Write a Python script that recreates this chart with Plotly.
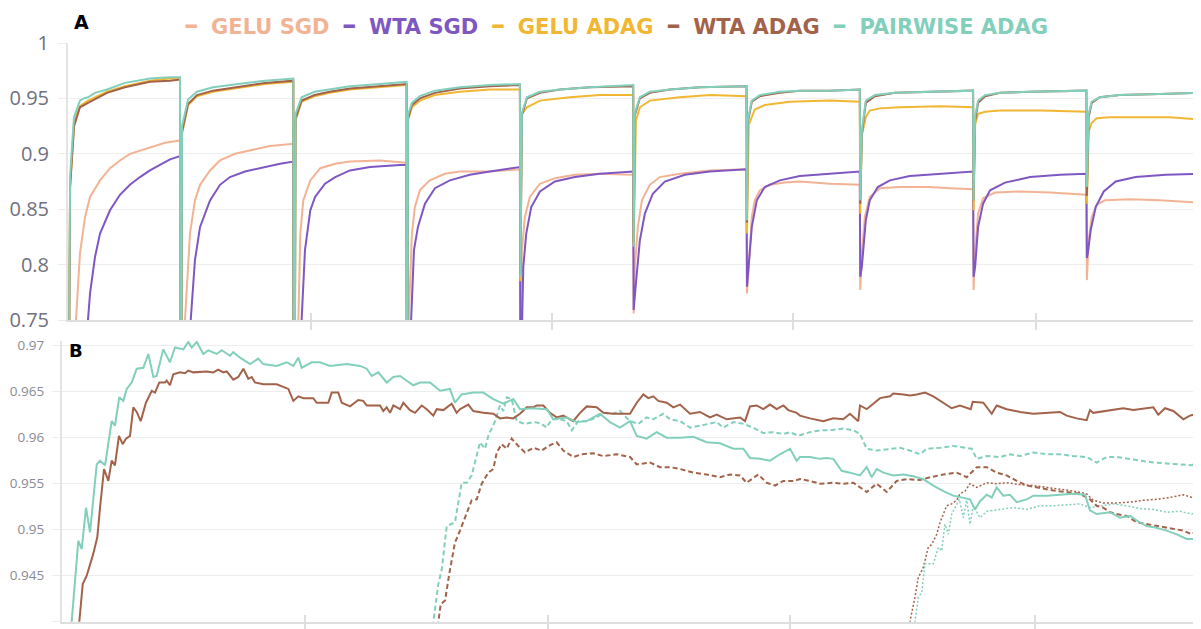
import plotly.graph_objects as go

# ---------------- colours ----------------
C_GELU_SGD = "#f2b394"
C_WTA_SGD = "#7e57c2"
C_GELU_ADAG = "#f2b732"
C_WTA_ADAG = "#a3624a"
C_PAIR_ADAG = "#82cfbb"

SERIES_NAMES = ["GELU SGD", "WTA SGD", "GELU ADAG", "WTA ADAG", "PAIRWISE ADAG"]

# ---------------- panel A : accuracy over 10 sequential tasks (x in task units) ----------------
A_GELU_SGD = [
    (0.012, 0.40), (0.082, 0.75), (0.117, 0.81), (0.162, 0.843), (0.206, 0.861), (0.294, 0.876), (0.382, 0.887),
    (0.47, 0.894), (0.558, 0.9), (0.735, 0.906), (0.868, 0.91), (1.0, 0.912),
    (1.005, 0.40), (1.044, 0.75), (1.088, 0.828), (1.132, 0.858), (1.177, 0.872), (1.265, 0.885), (1.353, 0.894),
    (1.485, 0.9), (1.618, 0.903), (1.794, 0.907), (2.0, 0.909),
    (2.005, 0.40), (2.045, 0.75), (2.062, 0.828), (2.088, 0.858), (2.15, 0.876), (2.238, 0.887), (2.37, 0.891),
    (2.5, 0.893), (2.764, 0.894), (3.0, 0.892),
    (3.005, 0.40), (3.019, 0.75), (3.047, 0.828), (3.073, 0.852), (3.117, 0.867), (3.205, 0.876), (3.338, 0.882),
    (3.47, 0.884), (3.735, 0.884), (4.0, 0.886),
    (4.005, 0.70), (4.018, 0.813), (4.044, 0.843), (4.088, 0.861), (4.177, 0.873), (4.309, 0.878), (4.485, 0.881),
    (4.706, 0.882), (5.0, 0.881),
    (5.004, 0.756), (5.015, 0.798), (5.041, 0.834), (5.077, 0.858), (5.147, 0.872), (5.235, 0.879), (5.412, 0.882),
    (5.676, 0.885), (6.0, 0.886),
    (6.004, 0.774), (6.02, 0.798), (6.047, 0.843), (6.073, 0.858), (6.117, 0.867), (6.205, 0.872), (6.338, 0.874),
    (6.47, 0.875), (6.735, 0.873), (7.0, 0.872),
    (7.004, 0.777), (7.018, 0.81), (7.044, 0.843), (7.088, 0.861), (7.177, 0.869), (7.353, 0.87), (7.618, 0.87),
    (7.794, 0.869), (8.0, 0.868),
    (8.004, 0.777), (8.018, 0.813), (8.044, 0.846), (8.088, 0.86), (8.194, 0.865), (8.415, 0.866), (8.68, 0.865),
    (9.0, 0.863),
    (9.004, 0.786), (9.02, 0.822), (9.047, 0.843), (9.091, 0.854), (9.162, 0.858), (9.382, 0.859), (9.647, 0.858),
    (10.0, 0.856),
]

A_WTA_SGD = [
    (0.012, 0.30), (0.15, 0.70), (0.206, 0.774), (0.25, 0.807), (0.294, 0.828), (0.382, 0.849), (0.47, 0.863),
    (0.558, 0.872), (0.647, 0.879), (0.735, 0.885), (0.823, 0.89), (0.912, 0.895), (1.0, 0.898),
    (1.005, 0.40), (1.06, 0.70), (1.132, 0.804), (1.177, 0.834), (1.265, 0.858), (1.353, 0.872), (1.441, 0.879),
    (1.574, 0.884), (1.706, 0.887), (1.883, 0.891), (2.0, 0.893),
    (2.005, 0.40), (2.05, 0.70), (2.103, 0.813), (2.15, 0.849), (2.192, 0.861), (2.28, 0.873), (2.37, 0.879),
    (2.5, 0.885), (2.677, 0.888), (2.942, 0.89), (3.0, 0.89),
    (3.005, 0.40), (3.02, 0.70), (3.065, 0.813), (3.1, 0.834), (3.162, 0.855), (3.25, 0.869), (3.382, 0.876),
    (3.558, 0.881), (3.735, 0.884), (3.973, 0.888), (4.0, 0.888),
    (4.005, 0.68), (4.03, 0.798), (4.056, 0.828), (4.1, 0.852), (4.177, 0.866), (4.309, 0.875), (4.485, 0.879),
    (4.706, 0.882), (5.0, 0.884),
    (5.004, 0.759), (5.024, 0.783), (5.059, 0.822), (5.103, 0.846), (5.173, 0.864), (5.279, 0.875), (5.456, 0.881),
    (5.676, 0.884), (6.0, 0.886),
    (6.004, 0.78), (6.02, 0.798), (6.047, 0.834), (6.091, 0.858), (6.161, 0.87), (6.294, 0.876), (6.47, 0.88),
    (6.735, 0.882), (7.0, 0.884),
    (7.004, 0.789), (7.018, 0.798), (7.053, 0.84), (7.088, 0.858), (7.159, 0.87), (7.265, 0.876), (7.441, 0.88),
    (7.706, 0.882), (8.0, 0.884),
    (8.004, 0.789), (8.018, 0.798), (8.044, 0.834), (8.088, 0.855), (8.15, 0.867), (8.282, 0.874), (8.503, 0.879),
    (8.768, 0.881), (9.0, 0.882),
    (9.004, 0.806), (9.012, 0.81), (9.038, 0.831), (9.082, 0.852), (9.153, 0.866), (9.259, 0.875), (9.435, 0.879),
    (9.7, 0.881), (10.0, 0.882),
]

A_GELU_ADAG = [
    (0.012, 0.55), (0.03, 0.87), (0.065, 0.928), (0.117, 0.943), (0.188, 0.948), (0.356, 0.956), (0.514, 0.961),
    (0.735, 0.966), (0.912, 0.968), (1.0, 0.968),
    (1.005, 0.40), (1.018, 0.918), (1.071, 0.944), (1.15, 0.952), (1.291, 0.956), (1.53, 0.96), (1.75, 0.963),
    (2.0, 0.965),
    (2.005, 0.40), (2.02, 0.93), (2.073, 0.947), (2.188, 0.952), (2.32, 0.955), (2.5, 0.958), (2.764, 0.96),
    (3.0, 0.962),
    (3.004, 0.40), (3.012, 0.93), (3.047, 0.942), (3.117, 0.948), (3.25, 0.953), (3.47, 0.956), (3.735, 0.958),
    (4.0, 0.958),
    (4.004, 0.785), (4.018, 0.936), (4.062, 0.942), (4.177, 0.948), (4.44, 0.951), (4.706, 0.953), (5.0, 0.953),
    (5.004, 0.818), (5.024, 0.93), (5.059, 0.942), (5.147, 0.948), (5.41, 0.951), (5.68, 0.953), (6.0, 0.952),
    (6.004, 0.828), (6.02, 0.926), (6.073, 0.94), (6.161, 0.944), (6.382, 0.947), (6.735, 0.948), (7.0, 0.947),
    (7.004, 0.846), (7.018, 0.917), (7.053, 0.933), (7.088, 0.939), (7.177, 0.941), (7.353, 0.942), (7.706, 0.943),
    (8.0, 0.942),
    (8.004, 0.849), (8.018, 0.927), (8.044, 0.936), (8.106, 0.938), (8.238, 0.939), (8.6, 0.939), (9.0, 0.938),
    (9.004, 0.855), (9.02, 0.92), (9.047, 0.928), (9.091, 0.932), (9.206, 0.933), (9.47, 0.933), (9.735, 0.933),
    (10.0, 0.931),
]

A_WTA_ADAG = [
    (0.012, 0.55), (0.03, 0.87), (0.065, 0.925), (0.117, 0.942), (0.188, 0.946), (0.356, 0.955), (0.514, 0.96),
    (0.735, 0.965), (0.912, 0.966), (1.0, 0.967),
    (1.005, 0.40), (1.018, 0.92), (1.071, 0.945), (1.15, 0.953), (1.291, 0.957), (1.53, 0.961), (1.75, 0.964),
    (2.0, 0.966),
    (2.005, 0.40), (2.02, 0.932), (2.073, 0.948), (2.188, 0.953), (2.32, 0.956), (2.5, 0.959), (2.764, 0.961),
    (3.0, 0.963),
    (3.004, 0.40), (3.012, 0.932), (3.047, 0.944), (3.117, 0.95), (3.25, 0.955), (3.47, 0.959), (3.735, 0.961),
    (4.0, 0.962),
    (4.004, 0.792), (4.018, 0.935), (4.062, 0.95), (4.177, 0.955), (4.353, 0.958), (4.618, 0.96), (5.0, 0.961),
    (5.004, 0.82), (5.015, 0.935), (5.059, 0.95), (5.147, 0.955), (5.324, 0.958), (5.59, 0.96), (6.0, 0.961),
    (6.004, 0.838), (6.011, 0.928), (6.047, 0.947), (6.117, 0.952), (6.294, 0.955), (6.47, 0.957), (6.735, 0.957),
    (7.0, 0.958),
    (7.004, 0.855), (7.018, 0.918), (7.053, 0.946), (7.133, 0.952), (7.31, 0.955), (7.618, 0.956), (8.0, 0.957),
    (8.004, 0.858), (8.018, 0.93), (8.044, 0.946), (8.106, 0.952), (8.238, 0.955), (8.503, 0.956), (9.0, 0.957),
    (9.004, 0.862), (9.02, 0.933), (9.047, 0.946), (9.118, 0.951), (9.294, 0.953), (9.647, 0.954), (10.0, 0.955),
]

A_PAIR_ADAG = [
    (0.012, 0.55), (0.03, 0.88), (0.064, 0.933), (0.117, 0.948), (0.15, 0.95), (0.188, 0.951), (0.25, 0.955),
    (0.356, 0.958), (0.514, 0.964), (0.735, 0.968), (0.912, 0.969), (1.0, 0.969),
    (1.005, 0.40), (1.018, 0.925), (1.071, 0.949), (1.15, 0.956), (1.291, 0.96), (1.53, 0.963), (1.75, 0.966),
    (2.0, 0.968),
    (2.005, 0.40), (2.02, 0.936), (2.073, 0.951), (2.188, 0.956), (2.32, 0.958), (2.5, 0.961), (2.764, 0.963),
    (3.0, 0.965),
    (3.004, 0.40), (3.012, 0.935), (3.047, 0.946), (3.117, 0.952), (3.25, 0.957), (3.47, 0.96), (3.735, 0.962),
    (4.0, 0.963),
    (4.004, 0.789), (4.018, 0.937), (4.062, 0.951), (4.177, 0.956), (4.353, 0.958), (4.618, 0.96), (5.0, 0.962),
    (5.004, 0.816), (5.015, 0.937), (5.059, 0.951), (5.147, 0.956), (5.324, 0.958), (5.59, 0.96), (6.0, 0.961),
    (6.004, 0.84), (6.011, 0.93), (6.047, 0.948), (6.117, 0.953), (6.294, 0.956), (6.47, 0.957), (6.735, 0.957),
    (7.0, 0.958),
    (7.004, 0.858), (7.018, 0.921), (7.053, 0.948), (7.133, 0.953), (7.31, 0.955), (7.618, 0.956), (8.0, 0.957),
    (8.004, 0.858), (8.018, 0.934), (8.044, 0.948), (8.106, 0.953), (8.238, 0.955), (8.503, 0.956), (9.0, 0.957),
    (9.004, 0.87), (9.02, 0.936), (9.047, 0.947), (9.118, 0.951), (9.294, 0.953), (9.647, 0.954), (10.0, 0.955),
]

# ---------------- panel B : zoom on ADAG runs ----------------
B_PAIR_SOLID = [
    (0.07, 0.936), (0.085, 0.94), (0.143, 0.9488), (0.173, 0.9479), (0.211, 0.9524), (0.246, 0.9497), (0.305, 0.9571),
    (0.334, 0.9575), (0.378, 0.957), (0.436, 0.9618), (0.465, 0.9613), (0.503, 0.9644), (0.538, 0.964),
    (0.568, 0.9653), (0.612, 0.966), (0.656, 0.9675), (0.714, 0.9676), (0.758, 0.9691), (0.802, 0.9666),
    (0.831, 0.9667), (0.889, 0.9696), (0.948, 0.9682), (0.992, 0.9698), (1.065, 0.9696), (1.109, 0.9704),
    (1.139, 0.9698), (1.183, 0.9704), (1.241, 0.9691), (1.284, 0.9695), (1.358, 0.9691), (1.402, 0.9695),
    (1.475, 0.9689), (1.504, 0.9693), (1.563, 0.9687), (1.651, 0.968), (1.723, 0.9686), (1.767, 0.968),
    (1.885, 0.9678), (1.973, 0.9682), (2.031, 0.9678), (2.075, 0.9687), (2.104, 0.9676), (2.192, 0.9682),
    (2.265, 0.9682), (2.353, 0.9678), (2.5, 0.968), (2.616, 0.9678), (2.675, 0.9675), (2.719, 0.9667),
    (2.777, 0.9671), (2.851, 0.966), (2.909, 0.9666), (2.968, 0.9667), (3.084, 0.9657), (3.143, 0.966),
    (3.231, 0.966), (3.319, 0.9651), (3.406, 0.9653), (3.45, 0.9638), (3.509, 0.9647), (3.611, 0.9649),
    (3.699, 0.9649), (3.787, 0.9642), (3.875, 0.9637), (3.962, 0.9642), (4.021, 0.9631), (4.138, 0.9632),
    (4.256, 0.9631), (4.313, 0.962), (4.431, 0.9622), (4.519, 0.9617), (4.607, 0.9618), (4.723, 0.9626),
    (4.811, 0.9617), (4.899, 0.9611), (4.987, 0.9618), (5.046, 0.9602), (5.133, 0.9599), (5.221, 0.9606),
    (5.309, 0.96), (5.426, 0.96), (5.543, 0.9601), (5.66, 0.9595), (5.777, 0.9594), (5.894, 0.9588),
    (5.982, 0.9588), (6.04, 0.9578), (6.128, 0.9577), (6.216, 0.9575), (6.304, 0.9582), (6.392, 0.9588),
    (6.45, 0.9575), (6.479, 0.9579), (6.567, 0.9579), (6.655, 0.9577), (6.714, 0.9578), (6.772, 0.9577),
    (6.845, 0.9564), (6.918, 0.9562), (7.006, 0.9559), (7.065, 0.9568), (7.109, 0.9557), (7.153, 0.9566),
    (7.211, 0.9562), (7.299, 0.9559), (7.386, 0.956), (7.474, 0.9558), (7.562, 0.9555), (7.65, 0.9548),
    (7.738, 0.9542), (7.825, 0.9537), (7.913, 0.9535), (7.972, 0.9533), (8.016, 0.9522), (8.06, 0.9531),
    (8.119, 0.9538), (8.163, 0.9535), (8.206, 0.9546), (8.264, 0.9537), (8.323, 0.9538), (8.382, 0.953),
    (8.47, 0.9533), (8.528, 0.9537), (8.645, 0.9537), (8.762, 0.9538), (8.879, 0.9539), (8.982, 0.9538),
    (9.025, 0.9521), (9.084, 0.9517), (9.201, 0.9519), (9.289, 0.9513), (9.377, 0.9515), (9.436, 0.951),
    (9.523, 0.9504), (9.611, 0.9502), (9.699, 0.9499), (9.787, 0.9495), (9.874, 0.949), (9.933, 0.949),
    (10.0, 0.9491),
]

B_WTA_SOLID = [
    (0.14, 0.936), (0.152, 0.94), (0.182, 0.9441), (0.217, 0.945), (0.275, 0.9474), (0.31, 0.9492), (0.334, 0.9524),
    (0.369, 0.9566), (0.407, 0.9553), (0.436, 0.9575), (0.465, 0.957), (0.5, 0.9602), (0.533, 0.9593),
    (0.562, 0.9599), (0.597, 0.9602), (0.626, 0.9633), (0.656, 0.9628), (0.691, 0.9618), (0.737, 0.9638),
    (0.788, 0.9651), (0.817, 0.9649), (0.854, 0.966), (0.904, 0.966), (0.919, 0.9662), (0.948, 0.9657),
    (0.977, 0.9669), (1.036, 0.9671), (1.08, 0.967), (1.109, 0.9673), (1.153, 0.9671), (1.27, 0.9672),
    (1.328, 0.9671), (1.372, 0.9674), (1.416, 0.9671), (1.446, 0.9672), (1.504, 0.9663), (1.548, 0.9666),
    (1.592, 0.9675), (1.636, 0.9664), (1.666, 0.9666), (1.694, 0.966), (1.767, 0.9658), (1.885, 0.9658),
    (1.943, 0.9655), (1.987, 0.9653), (2.031, 0.964), (2.075, 0.9645), (2.119, 0.9643), (2.206, 0.9643),
    (2.236, 0.9638), (2.338, 0.9638), (2.368, 0.9649), (2.426, 0.9649), (2.456, 0.9638), (2.529, 0.9634),
    (2.601, 0.9641), (2.645, 0.964), (2.675, 0.9635), (2.792, 0.9635), (2.821, 0.9629), (2.851, 0.9633),
    (2.88, 0.9627), (2.909, 0.9635), (2.968, 0.9631), (2.997, 0.9638), (3.055, 0.963), (3.099, 0.9627),
    (3.158, 0.9635), (3.202, 0.9631), (3.26, 0.9624), (3.29, 0.9631), (3.348, 0.963), (3.421, 0.9637),
    (3.465, 0.9627), (3.494, 0.9631), (3.567, 0.9636), (3.611, 0.9629), (3.699, 0.9627), (3.787, 0.9626),
    (3.845, 0.9621), (3.904, 0.9622), (3.962, 0.9621), (4.021, 0.9626), (4.08, 0.9633), (4.138, 0.9633),
    (4.168, 0.9635), (4.226, 0.9635), (4.284, 0.9627), (4.343, 0.9622), (4.401, 0.9624), (4.489, 0.9618),
    (4.548, 0.9627), (4.607, 0.9634), (4.694, 0.9633), (4.753, 0.9627), (4.84, 0.9626), (4.987, 0.9626),
    (5.046, 0.9638), (5.104, 0.9647), (5.148, 0.9643), (5.191, 0.9645), (5.235, 0.964), (5.309, 0.9638),
    (5.367, 0.9633), (5.426, 0.9636), (5.514, 0.9626), (5.601, 0.9628), (5.689, 0.9622), (5.748, 0.9625),
    (5.836, 0.962), (5.953, 0.9622), (5.997, 0.9618), (6.04, 0.9634), (6.099, 0.9635), (6.157, 0.9631),
    (6.216, 0.9636), (6.275, 0.9631), (6.333, 0.9635), (6.377, 0.963), (6.45, 0.9627), (6.479, 0.9624),
    (6.567, 0.9621), (6.684, 0.9618), (6.772, 0.9621), (6.859, 0.962), (6.918, 0.9626), (6.991, 0.9618),
    (7.006, 0.9635), (7.065, 0.9631), (7.123, 0.9637), (7.182, 0.9643), (7.27, 0.9645), (7.299, 0.9648),
    (7.386, 0.9647), (7.445, 0.9646), (7.504, 0.9647), (7.577, 0.9649), (7.65, 0.9645), (7.738, 0.9638),
    (7.811, 0.9632), (7.884, 0.9635), (7.978, 0.9631), (7.996, 0.9639), (8.089, 0.9638), (8.163, 0.9626),
    (8.206, 0.9635), (8.294, 0.9631), (8.411, 0.9628), (8.528, 0.9626), (8.645, 0.9627), (8.762, 0.9628),
    (8.821, 0.9624), (8.909, 0.9621), (8.996, 0.9619), (9.025, 0.963), (9.054, 0.9627), (9.113, 0.9628),
    (9.23, 0.963), (9.318, 0.9632), (9.406, 0.963), (9.523, 0.9632), (9.582, 0.9633), (9.625, 0.9625),
    (9.684, 0.9632), (9.757, 0.9629), (9.845, 0.962), (9.903, 0.9624), (10.0, 0.9627),
]

B_PAIR_DASH = [
    (3.24, 0.936), (3.26, 0.94), (3.304, 0.9441), (3.334, 0.9457), (3.378, 0.9504), (3.45, 0.9508), (3.509, 0.9551),
    (3.553, 0.9551), (3.597, 0.9559), (3.67, 0.9595), (3.714, 0.9588), (3.743, 0.9602), (3.802, 0.9618),
    (3.845, 0.9635), (3.875, 0.9629), (3.904, 0.9644), (3.948, 0.9642), (3.992, 0.9618), (4.065, 0.9615),
    (4.138, 0.9617), (4.197, 0.9616), (4.256, 0.9611), (4.299, 0.962), (4.372, 0.962), (4.431, 0.9618),
    (4.475, 0.9608), (4.533, 0.9618), (4.607, 0.9618), (4.694, 0.9622), (4.753, 0.9627), (4.84, 0.9626),
    (4.899, 0.9629), (4.987, 0.9618), (5.06, 0.9615), (5.133, 0.9622), (5.191, 0.962), (5.279, 0.9626),
    (5.338, 0.962), (5.426, 0.9618), (5.514, 0.9611), (5.601, 0.9613), (5.689, 0.9615), (5.748, 0.9617),
    (5.806, 0.9611), (5.894, 0.9617), (5.982, 0.9615), (6.069, 0.9611), (6.157, 0.9605), (6.245, 0.9606),
    (6.333, 0.9604), (6.392, 0.9606), (6.464, 0.9602), (6.567, 0.9606), (6.655, 0.9608), (6.743, 0.9608),
    (6.859, 0.961), (6.948, 0.9608), (7.006, 0.9604), (7.065, 0.9588), (7.153, 0.9586), (7.27, 0.9588),
    (7.357, 0.9589), (7.445, 0.9586), (7.533, 0.9582), (7.592, 0.9588), (7.709, 0.9589), (7.825, 0.9591),
    (7.913, 0.9589), (7.987, 0.9588), (8.031, 0.9577), (8.119, 0.958), (8.236, 0.9579), (8.323, 0.9582),
    (8.411, 0.958), (8.528, 0.9584), (8.645, 0.9582), (8.762, 0.9582), (8.879, 0.958), (8.996, 0.9579),
    (9.084, 0.9573), (9.172, 0.9579), (9.26, 0.9579), (9.377, 0.9577), (9.494, 0.9575), (9.582, 0.9573),
    (9.699, 0.9572), (9.816, 0.9571), (9.918, 0.957), (10.0, 0.9576),
]

B_WTA_DASH = [
    (3.29, 0.936), (3.304, 0.94), (3.325, 0.9419), (3.363, 0.9423), (3.4, 0.9452), (3.45, 0.9486), (3.494, 0.9499),
    (3.553, 0.9519), (3.597, 0.9532), (3.641, 0.9533), (3.685, 0.955), (3.743, 0.9562), (3.787, 0.9566),
    (3.817, 0.9584), (3.86, 0.9593), (3.904, 0.9588), (3.948, 0.9599), (4.006, 0.9591), (4.065, 0.9584),
    (4.138, 0.9589), (4.212, 0.9586), (4.27, 0.9591), (4.343, 0.9595), (4.401, 0.9586), (4.489, 0.9579),
    (4.563, 0.9582), (4.665, 0.9583), (4.753, 0.958), (4.87, 0.9582), (4.987, 0.9579), (5.046, 0.9571),
    (5.163, 0.9573), (5.25, 0.9568), (5.338, 0.9568), (5.426, 0.9566), (5.543, 0.9562), (5.66, 0.956),
    (5.777, 0.9557), (5.865, 0.956), (5.953, 0.9559), (6.011, 0.9551), (6.113, 0.956), (6.187, 0.9551),
    (6.26, 0.9548), (6.333, 0.9553), (6.421, 0.9553), (6.479, 0.9555), (6.567, 0.9553), (6.655, 0.955),
    (6.772, 0.9551), (6.859, 0.955), (6.948, 0.9551), (7.065, 0.9541), (7.153, 0.955), (7.241, 0.9541),
    (7.328, 0.9553), (7.416, 0.9555), (7.533, 0.9554), (7.621, 0.9557), (7.738, 0.956), (7.855, 0.9562),
    (7.943, 0.9557), (8.031, 0.9568), (8.119, 0.9568), (8.206, 0.9562), (8.294, 0.9559), (8.382, 0.9553),
    (8.47, 0.9548), (8.557, 0.9546), (8.645, 0.9544), (8.733, 0.9542), (8.821, 0.9541), (8.938, 0.9539),
    (9.025, 0.9533), (9.084, 0.9526), (9.142, 0.9524), (9.201, 0.9519), (9.26, 0.9517), (9.348, 0.9515),
    (9.436, 0.9508), (9.523, 0.9506), (9.64, 0.9504), (9.728, 0.9502), (9.845, 0.9499), (9.918, 0.9495),
    (10.0, 0.9502),
]

B_WTA_DOT = [
    (7.43, 0.936), (7.445, 0.94), (7.489, 0.9427), (7.518, 0.9448), (7.562, 0.9459), (7.606, 0.9481), (7.636, 0.9484),
    (7.68, 0.9495), (7.709, 0.9508), (7.738, 0.9517), (7.767, 0.9526), (7.811, 0.9528), (7.855, 0.9532),
    (7.884, 0.9539), (7.928, 0.9542), (7.972, 0.955), (8.031, 0.9546), (8.119, 0.9551), (8.206, 0.955),
    (8.294, 0.9551), (8.411, 0.9549), (8.528, 0.9548), (8.645, 0.9546), (8.762, 0.9544), (8.879, 0.9542),
    (8.996, 0.9539), (9.054, 0.9532), (9.142, 0.9529), (9.26, 0.9529), (9.377, 0.953), (9.494, 0.9532),
    (9.611, 0.9533), (9.728, 0.9535), (9.845, 0.9538), (9.933, 0.9535), (10.0, 0.9532),
]

B_PAIR_DOT = [
    (7.47, 0.936), (7.489, 0.94), (7.518, 0.9427), (7.548, 0.9431), (7.577, 0.9463), (7.65, 0.9463), (7.694, 0.9481),
    (7.724, 0.9477), (7.752, 0.9506), (7.782, 0.9495), (7.811, 0.9517), (7.84, 0.9524), (7.878, 0.9533),
    (7.913, 0.9513), (7.943, 0.9532), (7.972, 0.9506), (8.001, 0.9526), (8.06, 0.9513), (8.119, 0.952),
    (8.236, 0.9522), (8.352, 0.9524), (8.47, 0.9522), (8.586, 0.9526), (8.703, 0.9526), (8.821, 0.9527),
    (8.938, 0.9528), (9.025, 0.9524), (9.113, 0.9526), (9.23, 0.9528), (9.348, 0.9526), (9.464, 0.9523),
    (9.582, 0.9522), (9.699, 0.9519), (9.816, 0.952), (9.918, 0.9517), (10.0, 0.9521),
]

# ---------------- axes ticks ----------------
A_Y_TICKS = [0.75, 0.8, 0.85, 0.9, 0.95, 1.0]
A_Y_TICKTEXT = ["0.75", "0.8", "0.85", "0.9", "0.95", "1"]
B_Y_TICKS = [0.94, 0.945, 0.95, 0.955, 0.96, 0.965, 0.97]
B_Y_TICKTEXT = ["0.94", "0.945", "0.95", "0.955", "0.96", "0.965", "0.97"]
A_X_TICKS = [2.156, 4.283, 6.41, 8.555]
B_X_TICKS = [2.133, 4.267, 6.392, 8.543]

# The page body has an 8px margin, so the figure is sized to fill the rest of the 1201x629 window.
WIN_W, WIN_H = 1201, 629
BODY = 8
W, H = WIN_W - BODY, WIN_H - BODY


def fx(px):
    return (px - BODY) / W


def fy(py):
    return 1 - (py - BODY) / H


fig = go.Figure()


def add_line(pairs, color, name, xaxis, yaxis, width=2.0, dash="solid"):
    xs = [p[0] for p in pairs]
    ys = [p[1] for p in pairs]
    sizes = [0] * (len(pairs) - 1) + [8]
    fig.add_trace(go.Scatter(
        x=xs, y=ys, mode="lines+markers", name=name, showlegend=False,
        line=dict(color=color, width=width, dash=dash),
        marker=dict(size=sizes, color=color, line=dict(width=0)),
        xaxis=xaxis, yaxis=yaxis,
    ))


# panel A
add_line(A_GELU_SGD, C_GELU_SGD, "GELU SGD", "x", "y")
add_line(A_WTA_SGD, C_WTA_SGD, "WTA SGD", "x", "y")
add_line(A_GELU_ADAG, C_GELU_ADAG, "GELU ADAG", "x", "y")
add_line(A_WTA_ADAG, C_WTA_ADAG, "WTA ADAG", "x", "y")
add_line(A_PAIR_ADAG, C_PAIR_ADAG, "PAIRWISE ADAG", "x", "y")

# panel B
add_line(B_WTA_DOT, C_WTA_ADAG, "WTA ADAG (dotted)", "x2", "y2", width=1.5, dash="2px,2px")
add_line(B_PAIR_DOT, C_PAIR_ADAG, "PAIRWISE ADAG (dotted)", "x2", "y2", width=1.5, dash="2px,2px")
add_line(B_WTA_DASH, C_WTA_ADAG, "WTA ADAG (dashed)", "x2", "y2", width=2, dash="5px,3px")
add_line(B_PAIR_DASH, C_PAIR_ADAG, "PAIRWISE ADAG (dashed)", "x2", "y2", width=2, dash="5px,3px")
add_line(B_WTA_SOLID, C_WTA_ADAG, "WTA ADAG", "x2", "y2", width=2)
add_line(B_PAIR_SOLID, C_PAIR_ADAG, "PAIRWISE ADAG", "x2", "y2", width=2)

AXIS_LINE = "#dedede"
GRID = "#eeeeee"

common_x = dict(showgrid=False, zeroline=False, showline=True, linecolor=AXIS_LINE, linewidth=2,
                ticks="outside", ticklen=8, tickwidth=2, tickcolor=AXIS_LINE, showticklabels=False,
                automargin=False)
common_y = dict(showgrid=True, gridcolor=GRID, gridwidth=1, zeroline=False, showline=True,
                linecolor="#e4e4e4", linewidth=2, ticks="outside", ticklen=8, tickwidth=1,
                tickcolor=GRID, automargin=False, ticklabelstandoff=5)

fig.update_layout(
    template="none",
    width=W, height=H, autosize=False,
    margin=dict(l=0, r=0, t=0, b=0, pad=0),
    paper_bgcolor="white", plot_bgcolor="white",
    showlegend=False,
    xaxis=dict(domain=[fx(68), 1.0], range=[0.0115, 10.0115], tickvals=A_X_TICKS, anchor="y",
               minor=dict(ticks="inside", ticklen=7, tickwidth=2, tickcolor=AXIS_LINE,
                          tickvals=[v + 0.0005 for v in A_X_TICKS]),
               **common_x),
    yaxis=dict(domain=[fy(320), fy(43)], range=[0.75, 1.0], tickvals=A_Y_TICKS,
               ticktext=A_Y_TICKTEXT, anchor="x",
               tickfont=dict(family="Open Sans", size=20, color="#70707e"), **common_y),
    xaxis2=dict(domain=[fx(62), 1.0], range=[0.0, 10.0], tickvals=B_X_TICKS, anchor="y2",
                minor=dict(ticks="inside", ticklen=7, tickwidth=2, tickcolor=AXIS_LINE,
                           tickvals=[v + 0.0005 for v in B_X_TICKS]),
                **common_x),
    yaxis2=dict(domain=[fy(621.7), fy(341)], range=[0.94, 0.97051], tickvals=B_Y_TICKS,
                ticktext=B_Y_TICKTEXT, anchor="x2",
                tickfont=dict(family="Open Sans", size=13.5, color="#8a8a96"), **common_y),
)

# legend row (coloured text, as in the reference)
LEGEND_COLORS = [C_GELU_SGD, C_WTA_SGD, C_GELU_ADAG, C_WTA_ADAG, C_PAIR_ADAG]
gap = "<span style='font-size:18px'>&nbsp;&nbsp;</span>"
parts = []
for nm, col in zip(SERIES_NAMES, LEGEND_COLORS):
    parts.append(f"<span style='color:{col}'><span style='font-size:29px'>–</span>{gap}{nm}</span>")
legend_text = "<b>" + gap.join(parts) + "</b>"

fig.add_annotation(text=legend_text, xref="paper", yref="paper", x=fx(182), y=fy(24),
                   xanchor="left", yanchor="middle", showarrow=False,
                   font=dict(family="DejaVu Sans", size=21))

fig.add_annotation(text="<b>A</b>", xref="paper", yref="paper", x=fx(72), y=fy(9),
                   xanchor="left", yanchor="top", showarrow=False,
                   font=dict(family="DejaVu Sans", size=19, color="black"))
fig.add_annotation(text="<b>B</b>", xref="paper", yref="paper", x=fx(67), y=fy(350),
                   xanchor="left", yanchor="middle", showarrow=False,
                   font=dict(family="DejaVu Sans", size=18, color="black"))

fig.write_html("out.html")
